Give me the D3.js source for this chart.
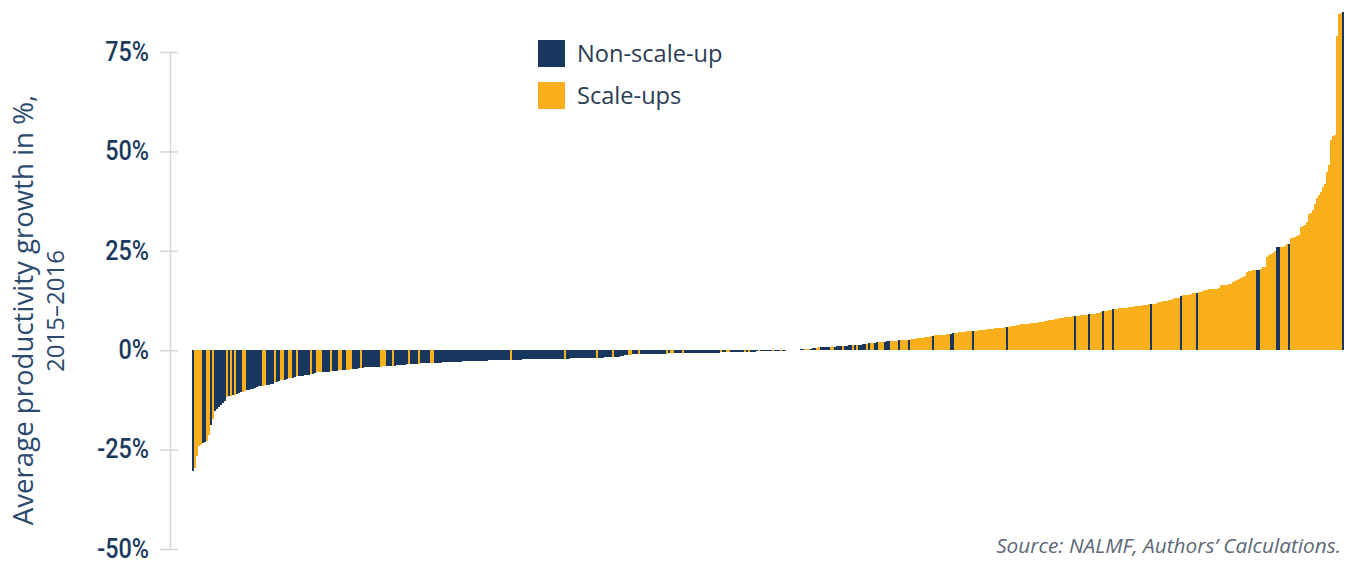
<!DOCTYPE html>
<html><head><meta charset="utf-8">
<script src="https://cdn.jsdelivr.net/npm/d3@7"></script>
<style>body{margin:0;background:#fff}svg{display:block}</style>
</head><body>
<svg id="chart" width="1346" height="562"></svg>
<script>
// productivity growth per firm, sorted (%)
const values = [
 -30.3,-29.6,-26.5,-24.0,-23.8,-23.3,-23.2,-22.9,-21.4,-18.8,
 -17.3,-15.4,-14.9,-14.3,-13.8,-13.3,-12.7,-11.8,-11.5,-11.4,
 -11.3,-11.2,-11.0,-10.8,-10.6,-10.4,-10.2,-10.0,-9.9,-9.8,
 -9.7,-9.4,-9.3,-9.1,-9.0,-8.9,-8.8,-8.7,-8.7,-8.6,
 -8.5,-8.1,-7.9,-7.8,-7.6,-7.5,-7.4,-7.3,-7.1,-7.0,
 -6.9,-6.8,-6.6,-6.5,-6.4,-6.4,-6.35,-6.3,-6.2,-6.0,
 -5.9,-5.85,-5.6,-5.55,-5.5,-5.5,-5.45,-5.4,-5.4,-5.3,
 -5.25,-5.2,-5.2,-5.1,-5.0,-5.0,-4.95,-4.9,-4.9,-4.85,
 -4.8,-4.7,-4.65,-4.6,-4.55,-4.4,-4.35,-4.3,-4.25,-4.2,
 -4.2,-4.2,-4.15,-4.1,-4.1,-4.05,-4.0,-3.95,-3.9,-3.9,
 -3.9,-3.85,-3.8,-3.75,-3.75,-3.7,-3.6,-3.55,-3.5,-3.5,
 -3.5,-3.45,-3.4,-3.35,-3.3,-3.3,-3.3,-3.25,-3.25,-3.2,
 -3.2,-3.2,-3.15,-3.1,-3.1,-3.0,-2.95,-2.9,-2.9,-2.9,
 -2.9,-2.88,-2.87,-2.85,-2.85,-2.83,-2.82,-2.8,-2.8,-2.78,
 -2.77,-2.75,-2.74,-2.72,-2.7,-2.7,-2.68,-2.6,-2.55,-2.54,
 -2.53,-2.52,-2.5,-2.5,-2.49,-2.48,-2.47,-2.45,-2.42,-2.4,
 -2.4,-2.38,-2.37,-2.35,-2.34,-2.33,-2.32,-2.3,-2.28,-2.27,
 -2.27,-2.26,-2.25,-2.25,-2.24,-2.23,-2.22,-2.22,-2.21,-2.2,
 -2.2,-2.19,-2.18,-2.17,-2.16,-2.15,-2.12,-2.1,-2.09,-2.08,
 -2.07,-2.06,-2.05,-2.04,-2.03,-2.02,-2.01,-2.0,-1.99,-1.98,
 -1.97,-1.95,-1.93,-1.9,-1.88,-1.85,-1.82,-1.8,-1.78,-1.75,
 -1.72,-1.7,-1.65,-1.6,-1.55,-1.5,-1.2,-1.15,-1.12,-1.1,
 -1.08,-1.05,-1.03,-1.0,-1.0,-0.98,-0.95,-0.94,-0.93,-0.92,
 -0.91,-0.9,-0.89,-0.88,-0.87,-0.86,-0.85,-0.84,-0.8,-0.79,
 -0.78,-0.77,-0.76,-0.75,-0.74,-0.73,-0.72,-0.71,-0.7,-0.7,
 -0.69,-0.68,-0.67,-0.66,-0.65,-0.65,-0.64,-0.63,-0.62,-0.62,
 -0.61,-0.6,-0.6,-0.59,-0.55,-0.54,-0.53,-0.52,-0.5,-0.49,
 -0.48,-0.47,-0.46,-0.45,-0.45,-0.44,-0.4,-0.38,-0.37,-0.36,
 -0.35,-0.33,-0.32,-0.31,-0.3,-0.29,-0.28,-0.27,-0.26,-0.2,
 -0.19,-0.18,-0.16,-0.14,-0.12,-0.1,-0.08,-0.05,-0.03,0.03,
 0.06,0.1,0.14,0.17,0.2,0.23,0.28,0.32,0.36,0.4,
 0.45,0.5,0.6,0.68,0.72,0.75,0.77,0.78,0.8,0.82,
 0.86,0.9,0.95,0.98,1.0,1.05,1.1,1.15,1.2,1.25,
 1.28,1.3,1.32,1.38,1.42,1.46,1.5,1.58,1.7,1.75,
 1.8,1.9,1.98,2.0,2.03,2.06,2.15,2.2,2.25,2.28,
 2.3,2.33,2.38,2.45,2.5,2.52,2.55,2.6,2.62,2.8,
 2.85,2.9,2.95,3.0,3.05,3.15,3.2,3.25,3.3,3.45,
 3.6,3.7,3.75,3.78,3.8,3.85,3.9,3.95,4.0,4.2,
 4.25,4.4,4.45,4.5,4.6,4.65,4.7,4.72,4.75,4.78,
 4.8,4.85,4.9,5.0,5.1,5.15,5.2,5.25,5.35,5.4,
 5.45,5.5,5.55,5.6,5.65,5.7,5.75,5.8,5.9,6.0,
 6.05,6.1,6.3,6.4,6.5,6.55,6.6,6.65,6.7,6.75,
 6.85,6.9,6.95,7.0,7.1,7.15,7.25,7.4,7.5,7.6,
 7.7,7.75,7.9,8.0,8.1,8.2,8.25,8.35,8.4,8.45,
 8.5,8.55,8.65,8.7,8.75,8.85,8.9,8.95,9.0,9.1,
 9.15,9.2,9.25,9.45,9.6,9.75,9.85,9.95,10.05,10.2,
 10.25,10.4,10.45,10.5,10.6,10.65,10.7,10.72,10.8,10.9,
 10.95,11.0,11.0,11.1,11.2,11.25,11.35,11.4,11.5,11.5,
 11.6,11.7,11.9,12.1,12.2,12.25,12.4,12.5,12.6,12.75,
 12.9,13.1,13.2,13.25,13.6,13.8,13.85,13.9,14.0,14.2,
 14.35,14.45,14.5,14.6,14.75,14.9,15.1,15.25,15.35,15.4,
 15.45,15.5,15.5,15.7,16.3,16.4,16.45,16.5,16.6,16.75,
 17.2,17.5,17.75,17.9,18.1,18.4,18.7,19.6,19.8,19.9,
 20.1,20.2,20.25,20.25,20.4,20.8,21.0,23.4,23.9,24.2,
 24.5,25.0,25.9,26.0,26.0,26.05,26.25,26.6,26.75,28.1,
 28.25,28.4,28.6,28.9,31.0,31.25,31.5,32.25,34.25,34.5,
 35.25,36.75,38.25,39.0,39.75,41.0,41.75,44.75,46.5,52.75,
 53.75,54.25,79.0,84.5,84.7,85.0
];

// group of each firm: N = Non-scale-up, S = Scale-up
const groups = (
 "NSSSSNNSSN" + "SNNNNNNSNS" + "NSNNNSSNNN" + "NNNNNSSNNN" + "NSNNSSNNSS" +
 "NNSNNNNNNS" + "NNSSSNNNNS" + "NNNSSNNSSS" + "NNNNSNNNNN" + "NNNNSSSNNN" +
 "SNNNNNNNSN" + "NNNSNNNNNS" + "SNNNNNNNNN" + "NNNNNNNNNN" + "NNNNNNNNNN" +
 "NNNNNNNNNS" + "NNNNNNNNNN" + "NNNNNNNNNN" + "NNNNNNSNNN" + "NNNNNNNNNN" +
 "NNSNNNNNNN" + "SNNNNNNNSS" + "NNNSNNNNNN" + "NNNNNNNSNS" + "SNNNNSNNNN" +
 "NNNNNNNNNN" + "NNNNSNNSSN" + "NNNNNNSNSN" + "NNNSNNNNNN" + "SNNNSNNNSN" +
 "NSNNNNSSSN" + "NNSSNNNNNS" + "SNNNNSNNNN" + "SNSNNNNSNS" + "SNNSSSNNNS" +
 "SSSNSSSSNS" + "SSSSSSSSSS" + "NSSSSSSSSN" + "NSSSSSSSSS" + "NSSSSSSSSS" +
 "SSSSSSSNSS" + "SSSSSSSSSS" + "SSSSSSSSSS" + "SSSSSSSSSS" + "SNSSSSSSNS" +
 "SSSSSNSSSS" + "NSSSSSSSSS" + "SSSSSSSSSN" + "SSSSSSSSSS" + "SSSSNSSSSS" +
 "SSNSSSSSSS" + "SSSSSSSSSS" + "SSSSSSSSSS" + "SSNNSSSSSS" + "SSNNSSSSNS" +
 "SSSSSSSSSS" + "SSSSSSSSSS" + "SSSSSN"
).split("");

const yTicks = [-50, -25, 0, 25, 50, 75];
const legendKeys = ["N", "S"];
const legendLabels = ["Non-scale-up", "Scale-ups"];
const titleLines = ["Average productivity growth in %,", "2015–2016"];
const sourceText = "Source: NALMF, Authors’ Calculations.";

const colors = { N: "#17375E", S: "#F9AF1C" };
const n = Math.min(values.length, groups.length);
const data = d3.range(n).map(i => ({ i, v: values[i], g: groups[i] }));

const svg = d3.select("#chart");

const x = d3.scaleBand().domain(d3.range(n)).range([192, 1344]).padding(0);
const y = d3.scaleLinear().domain([-50, 75]).range([549, 52]);

// axis
const narrow = 0.85;
const axis = d3.axisLeft(y).tickValues(yTicks).tickFormat(d => d + "%")
  .tickSizeInner(10).tickSizeOuter(0).tickPadding(11);
const ax = svg.append("g").attr("transform", "translate(170,0)").call(axis);
ax.select(".domain").attr("stroke", "#d6d6d6").attr("stroke-width", 1.5);
ax.selectAll(".tick line").attr("x1", -10).attr("x2", 8)
  .attr("stroke", "#d6d6d6").attr("stroke-width", 1.5);
ax.selectAll(".tick text")
  .attr("fill", "#1c3a5e")
  .attr("x", -21 / narrow)
  .attr("dy", "0.3em")
  .attr("transform", `scale(${narrow},1)`)
  .style("font-family", "Roboto, 'Liberation Sans', sans-serif")
  .style("font-size", "27.5px").style("font-weight", "500");

// bars
svg.append("g").selectAll("rect").data(data).join("rect")
  .attr("x", d => x(d.i))
  .attr("width", x.bandwidth())
  .attr("y", d => Math.min(y(d.v), y(0)))
  .attr("height", d => Math.abs(y(d.v) - y(0)))
  .attr("fill", d => colors[d.g])
  .attr("shape-rendering", "crispEdges");

// y title
const tg = svg.append("g").attr("fill", "#2c4a6e")
  .style("font-family", "'Open Sans', sans-serif");
tg.append("text").attr("transform", "translate(33,310) rotate(-90)")
  .attr("text-anchor", "middle").style("font-size", "27.6px").text(titleLines[0]);
tg.append("text").attr("transform", "translate(64,311) rotate(-90)")
  .attr("text-anchor", "middle").style("font-size", "24px").text(titleLines[1]);

// legend
const lg = svg.append("g");
legendKeys.forEach((k, j) => {
  lg.append("rect").attr("x", 538).attr("y", 40 + j * 42).attr("width", 27).attr("height", 27)
    .attr("fill", colors[k]);
  lg.append("text").attr("x", 577).attr("y", 54 + j * 42).attr("dy", "0.35em")
    .attr("fill", "#2b3d55")
    .style("font-family", "'Open Sans', sans-serif").style("font-size", "23.6px")
    .text(legendLabels[j]);
});

// source
svg.append("text").attr("x", 1341).attr("y", 553).attr("text-anchor", "end")
  .attr("fill", "#5d6876")
  .style("font-family", "'Open Sans', sans-serif").style("font-size", "20.8px")
  .style("font-style", "italic").text(sourceText);
</script>
</body></html>
